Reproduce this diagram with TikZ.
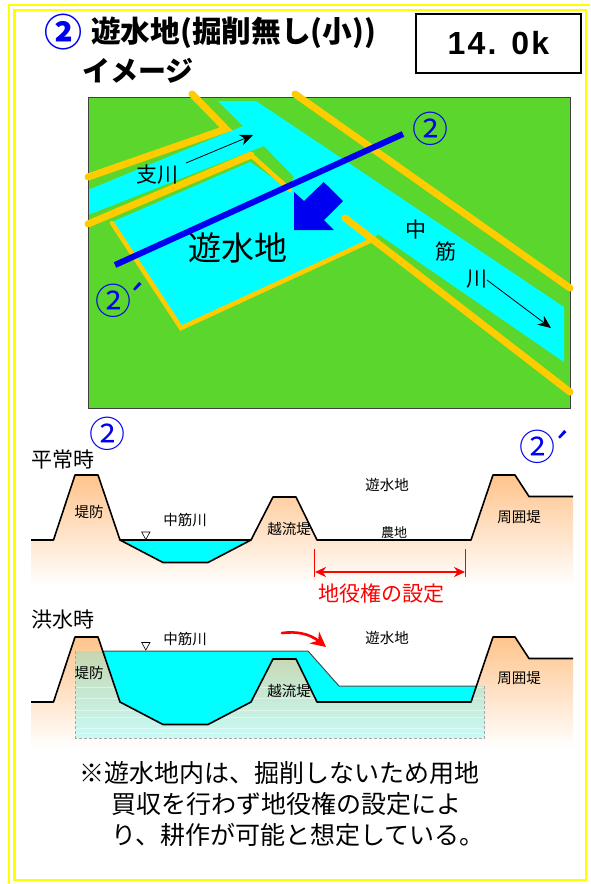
\documentclass[tikz,border=0pt]{standalone}
\usepackage{fontspec}
\usetikzlibrary{arrows.meta}
\newfontfamily\cjk{Noto Sans CJK JP}
\newfontfamily\boxfont[LetterSpace=7]{Liberation Sans}
\newcommand{\sz}[1]{\fontsize{#1pt}{#1pt}\selectfont}
\definecolor{fieldgreen}{HTML}{5AD62D}
\definecolor{leveeorange}{HTML}{FFCC00}
\definecolor{markblue}{HTML}{0000F0}
\definecolor{groundtop}{HTML}{FFC48C}
\definecolor{purecyan}{HTML}{00FFFF}
\definecolor{frameyellow}{HTML}{FFFF00}
\definecolor{purered}{HTML}{FF0000}
\tikzset{
  framepen/.style={draw=frameyellow,line width=2.5pt},
  levee/.style={draw=leveeorange,line width=7pt,line cap=round,line join=miter},
  leveethin/.style={draw=leveeorange,line width=4.5pt,line cap=round,line join=miter},
  water/.style={fill=purecyan},
  profile/.style={draw=black,line width=1.6pt,line join=round},
  flowarrow/.style={draw=black,line width=.8pt,-{Stealth[length=13pt,width=11pt]}},
  lab/.style={inner sep=0pt,font=\cjk\sz{14.5}},
  bigl/.style={inner sep=0pt,font=\cjk\sz{21}},
  secmark/.style={inner sep=0pt,text=markblue,font=\cjk\sz{36}},
  primemark/.style={inner sep=0pt,text=markblue,font=\cjk\sz{38}},
  wl/.style={draw=black,fill=white,line width=.6pt},
}
\begin{document}
\begin{tikzpicture}[x=1pt,y=-1pt]
\useasboundingbox (0,0) rectangle (590,884);
\fill[white] (0,0) rectangle (590,884);
% frame
\draw[framepen] (9,884) -- (9,5) -- (590,5);
\draw[framepen] (14.5,10) rectangle (586,880);
% title
\node[secmark,font=\cjk\bfseries\sz{38},anchor=center] (tnum) at (63,32) {②};
\node[inner sep=0pt,anchor=west,font=\cjk\bfseries\sz{29.7}] (title) at (91,33) {遊水地(掘削無し(小))};
\node[inner sep=0pt,anchor=west,font=\cjk\bfseries\sz{28}] (title2) at (82,71) {イメージ};
\node[draw=black,line width=2pt,fill=white,minimum width=165pt,minimum height=59pt,inner sep=0pt,anchor=north west,font=\boxfont\bfseries\sz{32}] (kp) at (415,13) {14. 0k};
% map
\fill[fieldgreen] (88,97) rectangle (570,408);
\fill[water] (218,101) -- (256,101) -- (564,307) -- (564,362) -- (378,234) -- (372,242) -- (181,329) -- (112,222) -- (250,162) -- (287,188) -- (294,177) -- (264,146) -- (88,215) -- (88,190) -- (243,126) -- cycle;
\draw[black!75,line width=1pt] (88,97) rectangle (570,408);
\draw[levee] (192,94) -- (226,129) -- (88,177);
\draw[levee] (295,94) -- (570,288);
\draw[levee] (88,224) -- (251,155);
\draw[leveethin] (251,155) -- (290,190);
\draw[levee] (345,218) -- (570,392);
\draw[leveethin] (112,223) -- (181,328) -- (372,240);
\coordinate (secA) at (403,134);
\coordinate (secB) at (115,265);
\draw[draw=markblue,line width=6pt] (secA) -- (secB);
\fill[markblue] (323.7,182) -- (343,201) -- (324,220) -- (334,230) -- (294,230) -- (294,192) -- (304,201) -- cycle;
\coordinate (ba) at (186,163);
\coordinate (bb) at (253,135);
\draw[flowarrow] (ba) -- (bb);
\coordinate (ma) at (487,280);
\coordinate (mb) at (551,328);
\draw[flowarrow] (ma) -- (mb);
\node[bigl] (shi) at (157,175) {支川};
\node[lab,font=\cjk\sz{21}] (c1) at (416,230) {中};
\node[lab,font=\cjk\sz{21}] (c2) at (446,252) {筋};
\node[lab,font=\cjk\sz{21}] (c3) at (477,279) {川};
\node[lab,font=\cjk\sz{33}] (yu) at (238,248) {遊水地};
\node[secmark] (m1) at (430,129) {②};
\node[secmark] (m2) at (113,301) {②};
\node[primemark] (m2p) at (136,299) {´};
% upper section
\shade[top color=groundtop,bottom color=white,shading angle=0] (31,540) -- (53.5,540) -- (75,475) -- (98,475) -- (120,540) -- (163,562.5) -- (208,562.5) -- (251,540) -- (273,497) -- (296,497) -- (317,540) -- (471,540) -- (493,475) -- (515,475) -- (529,496.5) -- (573,496.5) -- (573,586) -- (31,586) -- cycle;
\fill[water] (120,540) -- (251,540) -- (208,562.5) -- (163,562.5) -- cycle;
\draw[draw=black,line width=1.2pt] (120,540) -- (251,540);
\draw[profile] (31,540) -- (53.5,540) -- (75,475) -- (98,475) -- (120,540) -- (163,562.5) -- (208,562.5) -- (251,540) -- (273,497) -- (296,497) -- (317,540) -- (471,540) -- (493,475) -- (515,475) -- (529,496.5) -- (573,496.5);
\draw[wl] (141.7,532) -- (150,532) -- (145.8,539.5) -- cycle;
\node[bigl] (t1) at (63,460) {平常時};
\node[secmark] (m3) at (107,434) {②};
\node[secmark] (m4) at (537,447) {②};
\node[primemark] (m4p) at (561,447) {´};
\node[lab] (a1) at (89,512) {堤防};
\node[lab] (a2) at (185,520) {中筋川};
\node[lab] (a3) at (289,529) {越流堤};
\node[lab] (a4) at (387,485) {遊水地};
\node[lab,font=\cjk\sz{13}] (a5) at (394,533) {農地};
\node[lab] (a6) at (519,517) {周囲堤};
\coordinate (e1) at (314,549);\coordinate (e2) at (314,577);
\coordinate (e3) at (465,549);\coordinate (e4) at (465,577);
\draw[purered,line width=1pt] (e1) -- (e2);
\draw[purered,line width=1pt] (e3) -- (e4);
\coordinate (r1) at (315,572);\coordinate (r2) at (465,572);
\draw[purered,line width=2.2pt,{Stealth[length=11pt,width=10pt]}-{Stealth[length=11pt,width=10pt]}] (r1) -- (r2);
\node[bigl,text=purered] (rl) at (381,594) {地役権の設定};
% lower section
\shade[top color=groundtop,bottom color=white,shading angle=0] (31,702) -- (53.5,702) -- (75,637) -- (98,637) -- (120,702) -- (163,724.5) -- (208,724.5) -- (251,702) -- (273,659) -- (296,659) -- (317,702) -- (471,702) -- (493,637) -- (515,637) -- (529,658.5) -- (573,658.5) -- (573,748) -- (31,748) -- cycle;
\fill[purecyan,opacity=.22] (75.5,651) -- (308,651) -- (339,686) -- (484.5,686) -- (484.5,738) -- (75.5,738) -- cycle;
\foreach \yy in {687,698,710,717,728,733}{\draw[white,opacity=.45,line width=1pt] (75.5,\yy) -- (484.5,\yy);}
\draw[black!35,line width=.7pt,densely dashed] (75.5,651) -- (75.5,738) -- (484.5,738) -- (484.5,686);
\fill[water] (102.5,651) -- (308,651) -- (339,686) -- (476,686) -- (471,702) -- (317,702) -- (296,659) -- (273,659) -- (251,702) -- (208,724.5) -- (163,724.5) -- (120,702) -- cycle;
\draw[black!70,line width=1pt] (102.5,651) -- (308,651) -- (339,686) -- (476,686);
\draw[profile] (31,702) -- (53.5,702) -- (75,637) -- (98,637) -- (120,702) -- (163,724.5) -- (208,724.5) -- (251,702) -- (273,659) -- (296,659) -- (317,702) -- (471,702) -- (493,637) -- (515,637) -- (529,658.5) -- (573,658.5);
\draw[wl] (141.7,642.5) -- (150,642.5) -- (145.8,650) -- cycle;
\node[bigl] (t2) at (63,620) {洪水時};
\node[lab] (b1) at (89,673) {堤防};
\node[lab] (b2) at (185,639) {中筋川};
\node[lab] (b3) at (289,691) {越流堤};
\node[lab] (b4) at (387,638) {遊水地};
\node[lab] (b6) at (519,678) {周囲堤};
\coordinate (c0) at (282,633);\coordinate (c9) at (326,647);
\draw[purered,line width=2.6pt,line cap=round,-{Stealth[length=15pt,width=15pt]}] (c0) .. controls (297,631) and (310,634) .. (c9);
% note
\node[inner sep=0pt,anchor=west,font=\cjk\sz{25}] (n1) at (79,773) {※遊水地内は、掘削しないため用地};
\node[inner sep=0pt,anchor=west,font=\cjk\sz{25}] (n2) at (111,804) {買収を行わず地役権の設定によ};
\node[inner sep=0pt,anchor=west,font=\cjk\sz{25}] (n3) at (111,835) {り、耕作が可能と想定している。};
\end{tikzpicture}
\end{document}
